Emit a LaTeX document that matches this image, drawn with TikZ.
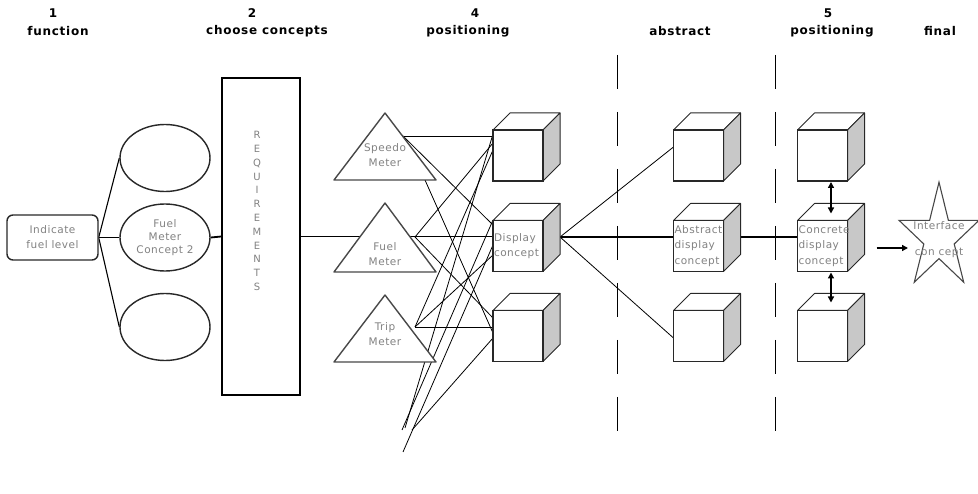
\documentclass[tikz,border=0pt]{standalone}
\usepackage{fontspec}
\setmainfont{DejaVu Sans}
\newfontfamily\titlefont[LetterSpace=6]{DejaVu Sans}
\newfontfamily\lblfont[LetterSpace=5]{DejaVu Sans}
\usetikzlibrary{shapes.geometric,arrows.meta,calc}
\pgfdeclarelayer{bg}
\pgfdeclarelayer{mid}
\pgfsetlayers{bg,mid,main}
\definecolor{txtgray}{RGB}{130,130,130}
\definecolor{sidegray}{RGB}{200,200,200}
\definecolor{edge}{RGB}{40,40,40}
\tikzset{
  ttl/.style={font=\titlefont\bfseries\fontsize{12}{14}\selectfont, inner sep=0pt},
  lbl/.style={font=\lblfont\fontsize{10.5}{13}\selectfont, text=txtgray, align=center, inner sep=0pt},
  oval/.style={ellipse, draw=edge, line width=1.4pt, fill=white, minimum width=90pt, minimum height=67pt, inner sep=0pt, lbl},
  funcbox/.style={rectangle, rounded corners=6pt, draw=edge, line width=1.4pt, fill=white, minimum width=91pt, minimum height=45pt, inner sep=0pt, lbl, font=\lblfont\fontsize{10.5}{15}\selectfont},
  reqbox/.style={rectangle, draw=black, line width=1.6pt, fill=white, minimum width=78pt, minimum height=317pt, inner sep=0pt},
  cubefront/.style={rectangle, draw=edge, line width=1.5pt, fill=white, minimum width=50pt, minimum height=51pt, inner sep=1pt, outer sep=0pt, font=\lblfont\fontsize{10.5}{15.5}\selectfont, text=txtgray, align=left, text width=48pt},
  cubeface/.style={draw=edge, line width=1pt, fill=white, line join=round},
  trishape/.style={draw=edge!85, line width=1.4pt, fill=white, line join=round},
  starshape/.style={draw=edge!85, line width=1.1pt, fill=white, line join=miter},
  thinline/.style={draw=black, line width=0.8pt},
  midline/.style={draw=black, line width=1.1pt},
  thickline/.style={draw=black, line width=1.8pt},
  dashline/.style={draw=black, line width=0.9pt, dash pattern=on 34pt off 23pt},
  arr/.style={draw=black, line width=1.4pt, -{Triangle[length=6pt,width=6pt]}},
  dblarr/.style={draw=black, line width=1.4pt, {Triangle[length=6pt,width=6pt]}-{Triangle[length=6pt,width=6pt]}}
}
\newcommand\cubefaces[1]{%
  \begin{pgfonlayer}{mid}
    \draw[cubeface] (#1.north west) -- ++(17,-17) -- ++(50,0) -- (#1.north east) -- cycle;
    \draw[cubeface,fill=sidegray] (#1.north east) -- ++(17,-17) -- ++(0,51) -- (#1.south east) -- cycle;
  \end{pgfonlayer}}
\newcommand\trishp[3]{%
  \begin{pgfonlayer}{mid}
    \draw[trishape] ($(#1)+(0,#2)$) -- ($(#1)+(51,#3)$) -- ($(#1)+(-51,#3)$) -- cycle;
  \end{pgfonlayer}}
\begin{document}
\begin{tikzpicture}[x=1pt,y=-1pt]
\useasboundingbox (0,0) rectangle (978,494);

% titles
\node[ttl] (n1) at (53,13) {1};
\node[ttl] (h1) at (58,31) {function};
\node[ttl] (n2) at (252,13) {2};
\node[ttl] (h2) at (267,31) {choose concepts};
\node[ttl] (n4) at (475,13) {4};
\node[ttl] (h4) at (468,31) {positioning};
\node[ttl] (h5) at (680,31) {abstract};
\node[ttl] (n6) at (828,13) {5};
\node[ttl] (h6) at (832,31) {positioning};
\node[ttl] (h7) at (940,31) {final};

% dashed separators
\draw[dashline] (617,55) -- (617,431);
\draw[dashline] (775,55) -- (775,431);

% left part
\node[funcbox] (ind) at (52.5,237.5) {Indicate\\fuel level};
\node[oval] (e1) at (165,158) {};
\node[oval] (e2) at (165,237.5) {Fuel\\Meter\\Concept 2};
\node[oval] (e3) at (165,327) {};
\node[reqbox] (req) at (261,236.5) {};
\node[lbl, font=\lblfont\fontsize{10}{13.8}\selectfont] (reqt) at (257,211) {R\\E\\Q\\U\\I\\R\\E\\M\\E\\N\\T\\S};

% triangles
\node[lbl, font=\lblfont\fontsize{10.5}{15}\selectfont] (sp) at (385,155.5) {Speedo\\Meter};
\node[lbl, font=\lblfont\fontsize{10.5}{15}\selectfont] (fu) at (385,254.5) {Fuel\\Meter};
\node[lbl, font=\lblfont\fontsize{10.5}{15}\selectfont] (tr) at (385,334.5) {Trip\\Meter};
\trishp{sp}{-42.5}{24.5}
\trishp{fu}{-51.5}{17.5}
\trishp{tr}{-39.5}{27.5}

% cubes
\node[cubefront] (c1t) at (518,155.5) {};
\node[cubefront] (disp) at (518,246) {Display\\concept};
\node[cubefront] (c1b) at (518,336) {};
\node[cubefront] (a1t) at (698.5,155.5) {};
\node[cubefront] (abs) at (698.5,246) {Abstract\\display\\concept};
\node[cubefront] (a1b) at (698.5,336) {};
\node[cubefront] (f1t) at (822.5,155.5) {};
\node[cubefront] (conc) at (822.5,246) {Concrete\\display\\concept};
\node[cubefront] (f1b) at (822.5,336) {};
\cubefaces{c1t}\cubefaces{disp}\cubefaces{c1b}
\cubefaces{a1t}\cubefaces{abs}\cubefaces{a1b}
\cubefaces{f1t}\cubefaces{conc}\cubefaces{f1b}

% star
\node[lbl] (st) at (939,239.5) {Interface\\[13pt]con cept};
\begin{pgfonlayer}{mid}
\begin{scope}[shift={(st)}]
\draw[starshape] (0,-57.3) -- (9.4,-19.1) -- (39.9,-19.1) -- (15.2,4.5) -- (24.7,42.7) -- (0,19.1) -- (-24.7,42.7) -- (-15.2,4.5) -- (-39.9,-19.1) -- (-9.4,-19.1) -- cycle;
\end{scope}
\end{pgfonlayer}

% helper coordinates
\coordinate (spO) at ($(sp)+(18,-19.5)$);
\coordinate (spB) at ($(sp)+(40,24.5)$);
\coordinate (fuO) at ($(fu)+(30,-17.5)$);
\coordinate (trO) at ($(tr)+(30,-7.5)$);
\coordinate (lowA) at (405,428);
\coordinate (lowB) at (402,430);
\coordinate (lowC) at (403,452);
\coordinate (lowD) at (412,430);
\coordinate (dispR) at ($(disp.east)+(17,-9)$);
\coordinate (absR) at ($(abs.east)+(17,-9)$);
\coordinate (arrS) at ($(conc.east)+(29,2)$);
\coordinate (arrE) at ($(st)+(-31,8.5)$);

\begin{pgfonlayer}{bg}
% left connectors
\draw[midline] (ind.east) -- (e1.west);
\draw[midline] (ind.east) -- (e3.west);
\draw[thickline] (ind.east) -- (e2.west);
\draw[thickline] (e2.east) -- (req.west);
\draw[thickline] (req.east) -- (req.east -| disp.west);
% triangle to cube tangle
\draw[thinline] (spO) -- ($(c1t.west)+(0,-19.5)$);
\draw[thinline] (spO) -- ($(disp.west)+(0,-21)$);
\draw[thinline] (spB) -- ($(c1b.west)+(0,-3)$);
\draw[thinline] (fuO) -- ($(c1t.west)+(0,-12.5)$);
\draw[thinline] (fuO) -- ($(c1b.west)+(0,-18)$);
\draw[thinline] (trO) -- ($(c1t.west)+(0,-5.5)$);
\draw[thinline] (trO) -- ($(disp.west)+(0,9)$);
\draw[thinline] (trO) -- ($(c1b.west)+(0,-9)$);
\draw[thinline] ($(c1t.west)+(0,-21.5)$) -- (lowA);
\draw[thinline] ($(disp.west)+(0,-26)$) -- (lowB);
\draw[thinline] ($(disp.west)+(0,-1)$) -- (lowC);
\draw[thinline] ($(c1b.west)+(0,2)$) -- (lowD);
% to abstract and concrete
\draw[thickline] (dispR) -- (dispR -| abs.west);
\draw[thinline] (dispR) -- ($(a1t.west)+(0,-8.5)$);
\draw[thinline] (dispR) -- ($(a1b.west)+(0,2)$);
\draw[thickline] (absR) -- (absR -| conc.west);
\end{pgfonlayer}

% arrows
\draw[arr] (arrS) -- (arrE);
\draw[dblarr] ($(f1t.south)+(8.5,1)$) -- ($(conc.north)+(8.5,-7)$);
\draw[dblarr] ($(conc.south)+(8.5,1)$) -- ($(f1b.north)+(8.5,-8)$);
\end{tikzpicture}
\end{document}
